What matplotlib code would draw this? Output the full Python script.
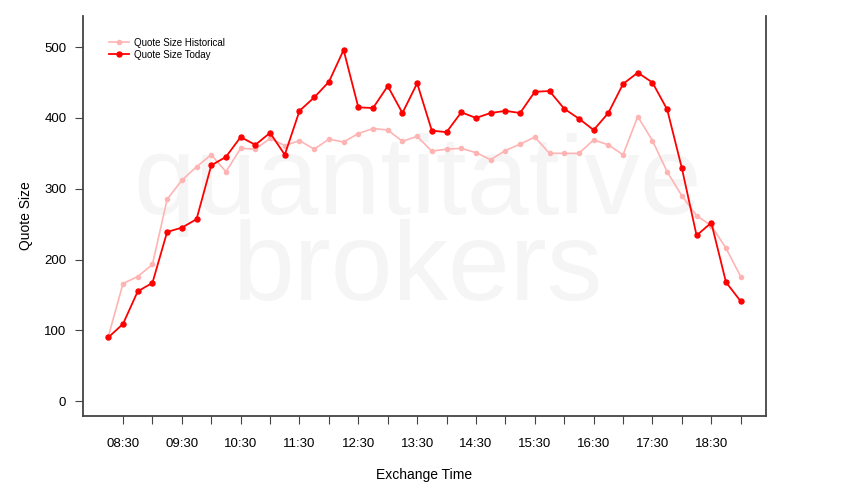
import matplotlib
matplotlib.use("Agg")
import matplotlib.pyplot as plt
import pandas as pd

plt.rcParams['font.family'] = ['Liberation Sans', 'DejaVu Sans']

# --- dati ---
orari = ["08:15", "08:30", "08:45", "09:00", "09:15", "09:30", "09:45", "10:00",
         "10:15", "10:30", "10:45", "11:00", "11:15", "11:30", "11:45", "12:00",
         "12:15", "12:30", "12:45", "13:00", "13:15", "13:30", "13:45", "14:00",
         "14:15", "14:30", "14:45", "15:00", "15:15", "15:30", "15:45", "16:00",
         "16:15", "16:30", "16:45", "17:00", "17:15", "17:30", "17:45", "18:00",
         "18:15", "18:30", "18:45", "19:00"]

storico = [91, 166, 176, 193, 285, 312, 331, 348, 324, 357, 356, 371,
           361, 368, 356, 370, 366, 378, 385, 383, 367, 374, 353, 356,
           357, 351, 341, 354, 363, 373, 350, 350, 350, 369, 362, 348,
           402, 368, 324, 290, 262, 248, 216, 176]

oggi = [90, 109, 155, 167, 239, 245, 257, 333, 345, 373, 362, 379,
        348, 410, 429, 451, 496, 415, 414, 445, 407, 449, 382, 380,
        408, 400, 407, 410, 407, 437, 438, 413, 399, 383, 407, 448,
        464, 450, 412, 329, 234, 252, 168, 141]

tick_orari = ["08:30", "09:00", "09:30", "10:00", "10:30", "11:00", "11:30",
              "12:00", "12:30", "13:00", "13:30", "14:00", "14:30", "15:00",
              "15:30", "16:00", "16:30", "17:00", "17:30", "18:00", "18:30", "19:00"]
etichette_ogni_ora = ["08:30", "09:30", "10:30", "11:30", "12:30", "13:30",
                      "14:30", "15:30", "16:30", "17:30", "18:30"]


def in_ore(hhmm):
    t = pd.Timedelta(hhmm + ":00")
    return t.total_seconds() / 3600.0


x = [in_ore(o) for o in orari]
xt = [in_ore(o) for o in tick_orari]
xl = [o if o in etichette_ogni_ora else "" for o in tick_orari]

fig = plt.figure(figsize=(8.5, 5), dpi=100)
ax = fig.add_axes([83 / 850, 84 / 500, 683 / 850, 400 / 500])

# --- filigrana (un solo testo su due righe) ---
ax.text(0.49, 0.29, "quantitative\nbrokers", transform=ax.transAxes,
        ha="center", va="baseline", multialignment="center",
        linespacing=0.78, fontsize=80, color="#f5f5f5", zorder=0)

ax.plot(x, storico, "-o", color="#ffb4b4", lw=1.2, ms=3,
        label="Quote Size Historical", zorder=2)
ax.plot(x, oggi, "-o", color="#ff0000", lw=1.3, ms=3.6,
        label="Quote Size Today", zorder=3)

ax.set_xlim(x[0] - 0.04 * (x[-1] - x[0]), x[-1] + 0.04 * (x[-1] - x[0]))
ax.set_ylim(-21, 544)

ax.set_yticks([0, 100, 200, 300, 400, 500])
ax.set_xticks(xt)
ax.set_xticklabels(xl)

for lato in ["left", "right", "bottom"]:
    ax.spines[lato].set_color("#444444")
    ax.spines[lato].set_linewidth(1.3)
ax.spines["top"].set_visible(False)

ax.tick_params(axis="y", direction="out", length=6, width=0.8,
               colors="#444444", labelcolor="black", labelsize=9.5, pad=6)
ax.tick_params(axis="x", direction="out", length=6, width=0.8,
               colors="#444444", labelcolor="black", labelsize=9.5, pad=10)
# le tacche con etichetta sono piu chiare
for tacca, lab in zip(ax.xaxis.get_major_ticks(), xl):
    if lab:
        tacca.tick1line.set_color("#999999")

ax.set_xlabel("Exchange Time", fontsize=10, labelpad=13)
ax.set_ylabel("Quote Size", fontsize=10, labelpad=8)

ax.legend(loc="upper left", bbox_to_anchor=(0.033, 0.955), frameon=False,
          fontsize=7, handlelength=2.0, handletextpad=0.55,
          labelspacing=0.2, borderaxespad=0)

fig.savefig("out.png", dpi=100)
